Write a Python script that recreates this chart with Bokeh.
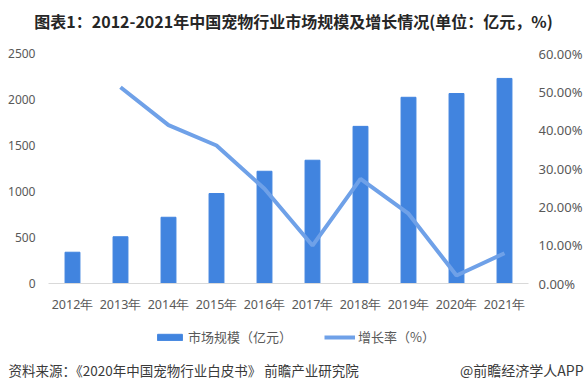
from bokeh.plotting import figure
from bokeh.layouts import column
from bokeh.models import (Range1d, LinearAxis, FixedTicker, NumeralTickFormatter,
                          Legend, LegendItem, Label)
from bokeh.embed import file_html
from bokeh.resources import INLINE

years = ["2012年", "2013年", "2014年", "2015年", "2016年", "2017年", "2018年", "2019年", "2020年", "2021年"]
market_size = [340, 508, 720, 978, 1220, 1340, 1708, 2024, 2065, 2229]
growth_years = ["2013年", "2014年", "2015年", "2016年", "2017年", "2018年", "2019年", "2020年", "2021年"]
growth_rate = [0.512, 0.413, 0.360, 0.247, 0.099, 0.273, 0.182, 0.021, 0.079]
left_ticks = [0, 500, 1000, 1500, 2000, 2500]
right_ticks = [0, 0.1, 0.2, 0.3, 0.4, 0.5, 0.6]

title_text = "图表1：2012-2021年中国宠物行业市场规模及增长情况(单位：亿元，%)"
source_text = "资料来源：《2020年中国宠物行业白皮书》 前瞻产业研究院"
brand_text = "@前瞻经济学人APP"
legend_labels = ["市场规模（亿元）", "增长率（%）"]

BAR = "#4184DF"
LINE = "#6FA1E8"
TICK = "#595959"
CJK = "Noto Sans CJK SC"

W = 585
HT, HP, HQ = 40, 280, 71          # title strip, chart, legend/source strip
FL, FR = 48, 528                  # chart frame left/right
FT, FB = 53 - HT, 283 - HT        # chart frame top/bottom inside the chart figure

bar_x = [years.index(y) for y in years]
line_x = [years.index(y) for y in growth_years]


def strip(h):
    f = figure(frame_width=W, frame_height=h, x_range=Range1d(0, W), y_range=Range1d(0, h),
               output_backend="svg", toolbar_location=None,
               x_axis_location=None, y_axis_location=None,
               min_border_left=0, min_border_right=0, min_border_top=0, min_border_bottom=0)
    f.outline_line_color = None
    f.background_fill_color = "white"
    f.border_fill_color = "white"
    f.grid.grid_line_color = None
    f.grid.visible = False
    return f


def no_align(f):
    if "frame_align" in f.properties():
        f.frame_align = False


# ---------------- title strip ----------------
t = strip(HT)
t.add_layout(Label(x=293, y=HT - 20, text=title_text, text_align="center", text_baseline="middle",
                   text_font=CJK, text_font_size="16px", text_font_style="bold",
                   text_color="#262626"))

# ---------------- main chart ----------------
p = figure(width=W, height=HP, x_range=Range1d(-0.5, len(years) - 0.5), y_range=Range1d(0, 2500),
           output_backend="svg", toolbar_location=None,
           min_border_left=FL, min_border_right=W - FR, min_border_top=FT, min_border_bottom=HP - FB)
p.outline_line_color = None
p.background_fill_color = "white"
p.border_fill_color = "white"
p.xgrid.grid_line_color = None
p.ygrid.grid_line_color = None

p.extra_y_ranges = {"pct": Range1d(0, 0.6)}

bars = p.vbar(x=bar_x, top=market_size, width=0.31, color=BAR)
line = p.line(x=line_x, y=growth_rate, y_range_name="pct", line_width=4, line_color=LINE)


def clean(ax):
    ax.major_tick_line_color = None
    ax.minor_tick_line_color = None
    ax.major_tick_in = 0
    ax.major_tick_out = 0
    ax.minor_tick_in = 0
    ax.minor_tick_out = 0


xa = p.xaxis[0]
clean(xa)
xa.ticker = FixedTicker(ticks=bar_x)
xa.major_label_overrides = {i: y for i, y in zip(bar_x, years)}
xa.axis_line_color = "#D9D9D9"
xa.major_label_text_font = "Noto Sans"
xa.major_label_text_font_size = "12.5px"
xa.major_label_text_color = TICK
xa.major_label_standoff = 12

ya = p.yaxis[0]
clean(ya)
ya.ticker = FixedTicker(ticks=left_ticks)
ya.axis_line_color = None
ya.major_label_text_font = "Noto Sans"
ya.major_label_text_font_size = "12px"
ya.major_label_text_color = TICK
ya.major_label_standoff = 13

ra = LinearAxis(y_range_name="pct", ticker=FixedTicker(ticks=right_ticks),
                formatter=NumeralTickFormatter(format="0.00%"))
clean(ra)
ra.axis_line_color = None
ra.major_label_text_font = "Noto Sans"
ra.major_label_text_font_size = "13px"
ra.major_label_text_color = TICK
ra.major_label_standoff = 10
p.add_layout(ra, "right")

# ---------------- legend + source strip ----------------
q = strip(HQ)
key_bar = q.vbar(x=bar_x, top=market_size, width=0.31, color=BAR, visible=False)
key_line = q.line(x=line_x, y=growth_rate, line_width=4, line_color=LINE, visible=False)

legend = Legend(items=[LegendItem(label=legend_labels[0], renderers=[key_bar]),
                       LegendItem(label=legend_labels[1], renderers=[key_line])],
                orientation="horizontal", location=(154, 45),
                glyph_width=31, glyph_height=8, label_height=8, label_standoff=3, spacing=32,
                padding=0, margin=0, border_line_alpha=0, background_fill_alpha=0,
                inactive_fill_alpha=0,
                label_text_font=CJK, label_text_font_size="13px", label_text_color=TICK)
q.add_layout(legend)

q.add_layout(Label(x=8, y=21.5, text=source_text, text_align="left", text_baseline="middle",
                   text_font=CJK, text_font_size="13.5px", text_color="#3A3A3A"))
q.add_layout(Label(x=583, y=21.5, text=brand_text, text_align="right", text_baseline="middle",
                   text_font=CJK, text_font_size="14px", text_color="#3A3A3A"))

for f in (t, p, q):
    no_align(f)

layout = column(t, p, q, spacing=0)
open("out.html", "w").write(file_html(layout, INLINE))
